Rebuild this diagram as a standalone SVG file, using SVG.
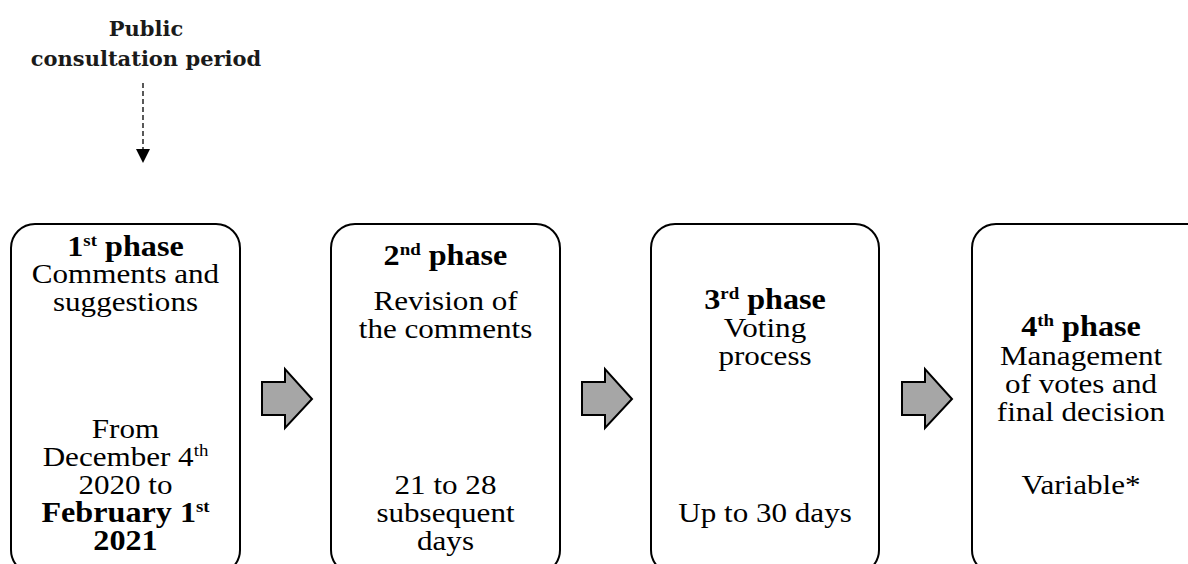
<svg xmlns="http://www.w3.org/2000/svg" width="1188" height="564" viewBox="0 0 1188 564">
<defs>
<style>
.box{fill:#fff;stroke:#000;stroke-width:2}
.t{font-family:"Liberation Serif","Times New Roman",serif;font-size:28px;fill:#000;text-anchor:middle}
.b{font-weight:bold;font-size:29px}
.sup{font-size:17px}
.hdr{font-family:"DejaVu Serif","Liberation Serif",serif;font-weight:bold;font-size:21px;fill:#1a1a1a;text-anchor:middle}
.blk{fill:#a6a6a6;stroke:#000;stroke-width:2;stroke-linejoin:miter}
.dash{stroke:#000;stroke-width:1.3;stroke-dasharray:5,3;fill:none}
</style>
<marker id="tri" viewBox="0 0 14 14" refX="0" refY="7" markerWidth="14" markerHeight="14" markerUnits="userSpaceOnUse" orient="auto">
<path d="M0,0 L14,7 L0,14 Z" fill="#000"/>
</marker>
</defs>
<rect width="1188" height="564" fill="#fff"/>

<g id="header">
<text class="hdr" x="146" y="36">Public</text>
<text class="hdr" x="146" y="66">consultation period</text>
</g>

<g id="phase1">
<rect class="box" x="11" y="224" width="229" height="350" rx="24"/>
<g transform="translate(125.5,0) scale(1.11,1)">
<text class="t b" x="0" y="256">1<tspan class="sup" dy="-10">st</tspan><tspan dy="10"> phase</tspan></text>
<text class="t" x="0" y="283">Comments and</text>
<text class="t" x="0" y="311">suggestions</text>
<text class="t" x="0" y="438">From</text>
<text class="t" x="0" y="466">December 4<tspan class="sup" dy="-10">th</tspan></text>
<text class="t" x="0" y="494">2020 to</text>
<text class="t b" x="0" y="522">February 1<tspan class="sup" dy="-10">st</tspan></text>
<text class="t b" x="0" y="550">2021</text>
</g>
</g>

<g id="phase2">
<rect class="box" x="331" y="224" width="229" height="350" rx="24"/>
<g transform="translate(445.5,0) scale(1.11,1)">
<text class="t b" x="0" y="265">2<tspan class="sup" dy="-10">nd</tspan><tspan dy="10"> phase</tspan></text>
<text class="t" x="0" y="310">Revision of</text>
<text class="t" x="0" y="338">the comments</text>
<text class="t" x="0" y="494">21 to 28</text>
<text class="t" x="0" y="522">subsequent</text>
<text class="t" x="0" y="550">days</text>
</g>
</g>

<g id="phase3">
<rect class="box" x="651" y="224" width="228" height="350" rx="24"/>
<g transform="translate(765,0) scale(1.11,1)">
<text class="t b" x="0" y="309">3<tspan class="sup" dy="-10">rd</tspan><tspan dy="10"> phase</tspan></text>
<text class="t" x="0" y="337">Voting</text>
<text class="t" x="0" y="365">process</text>
<text class="t" x="0" y="522">Up to 30 days</text>
</g>
</g>

<g id="phase4">
<rect class="box" x="972" y="224" width="240" height="350" rx="24"/>
<g transform="translate(1081,0) scale(1.11,1)">
<text class="t b" x="0" y="336">4<tspan class="sup" dy="-10">th</tspan><tspan dy="10"> phase</tspan></text>
<text class="t" x="0" y="365">Management</text>
<text class="t" x="0" y="393">of votes and</text>
<text class="t" x="0" y="421">final decision</text>
<text class="t" x="0" y="494">Variable*</text>
</g>
</g>

<g id="connectors">
<line class="dash" x1="143" y1="83" x2="143" y2="149" marker-end="url(#tri)"/>
<path class="blk" d="M262,382 H285 V369 L312,399 L285,428 V415 H262 Z"/>
<path class="blk" d="M582,382 H605 V369 L632,399 L605,428 V415 H582 Z"/>
<path class="blk" d="M902,382 H925 V369 L952,399 L925,428 V415 H902 Z"/>
</g>
</svg>
